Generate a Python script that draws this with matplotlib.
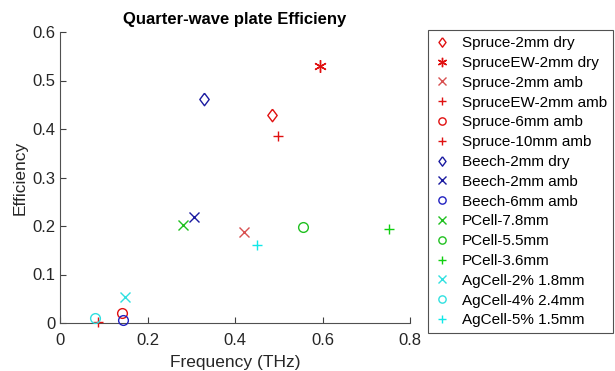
import numpy as np
import matplotlib.pyplot as plt

plt.rcParams['font.family'] = ['Liberation Sans', 'DejaVu Sans']

labels = ["Spruce-2mm dry", "SpruceEW-2mm dry", "Spruce-2mm amb", "SpruceEW-2mm amb",
          "Spruce-6mm amb", "Spruce-10mm amb", "Beech-2mm dry", "Beech-2mm amb",
          "Beech-6mm amb", "PCell-7.8mm", "PCell-5.5mm", "PCell-3.6mm",
          "AgCell-2% 1.8mm", "AgCell-4% 2.4mm", "AgCell-5% 1.5mm"]
freq = [0.485, 0.595, 0.42, 0.498, 0.142, 0.086, 0.33, 0.306, 0.143,
        0.28, 0.555, 0.752, 0.149, 0.08, 0.45]
eff = [0.428, 0.529, 0.187, 0.385, 0.02, 0.003, 0.461, 0.218, 0.006,
       0.202, 0.197, 0.194, 0.053, 0.011, 0.16]

diamond = [(0, 1), (0.75, 0), (0, -1), (-0.75, 0), (0, 1)]
star = (6, 2, 0)
markers = [diamond, star, 'x', '+', 'o', '+', diamond, 'x', 'o', 'x', 'o', '+', 'x', 'o', '+']
colors = ['#e01010', '#e01010', '#d85050', '#e01010', '#e01010', '#e01010',
          '#1a1aa0', '#1a1aa0', '#2020c0', '#20c020', '#20c020', '#10d010',
          '#30e0e0', '#30e0e0', '#10e8e8']

fig = plt.figure(figsize=(6.15, 3.71), dpi=100)
ax = fig.add_axes([60/615, 48/371, 350/615, 291/371])

for i in range(len(labels)):
    m = markers[i]
    size = 7
    if m is diamond:
        size = 9
    elif m is star:
        size = 9
    ax.plot(freq[i], eff[i], linestyle='none', marker=m, color=colors[i],
            markerfacecolor='none', markersize=size,
            markeredgewidth=1.0, label=labels[i], clip_on=False, zorder=3)

ax.set_xlim(0, 0.8)
ax.set_ylim(0, 0.6)
ax.set_xticks([0, 0.2, 0.4, 0.6, 0.8])
ax.set_xticklabels(['0', '0.2', '0.4', '0.6', '0.8'])
ax.set_yticks(np.arange(0, 0.61, 0.1))
ax.set_yticklabels(['0', '0.1', '0.2', '0.3', '0.4', '0.5', '0.6'])
ax.tick_params(direction='in', labelsize=12, colors='#404040', labelcolor='#262626', length=4)
ax.tick_params(axis='x', pad=7)
ax.spines['top'].set_visible(False)
ax.spines['right'].set_visible(False)
ax.spines['left'].set_color('#505050')
ax.spines['bottom'].set_color('#505050')
ax.set_xlabel('Frequency (THz)', fontsize=12.5, color='#262626', labelpad=5)
ax.set_ylabel('Efficiency', fontsize=12.5, color='#262626', labelpad=3)
ax.set_title('Quarter-wave plate Efficieny', fontsize=12, fontweight='bold', pad=6)

leg = ax.legend(loc='upper left', bbox_to_anchor=(368/350, 1 + 2/291), fontsize=11,
                frameon=True, fancybox=False, edgecolor='#262626',
                handlelength=1.0, handletextpad=0.8, labelspacing=0.38,
                borderpad=0.4, borderaxespad=0, markerscale=0.75)
leg.get_frame().set_linewidth(0.8)

fig.savefig('out.png', dpi=100)
